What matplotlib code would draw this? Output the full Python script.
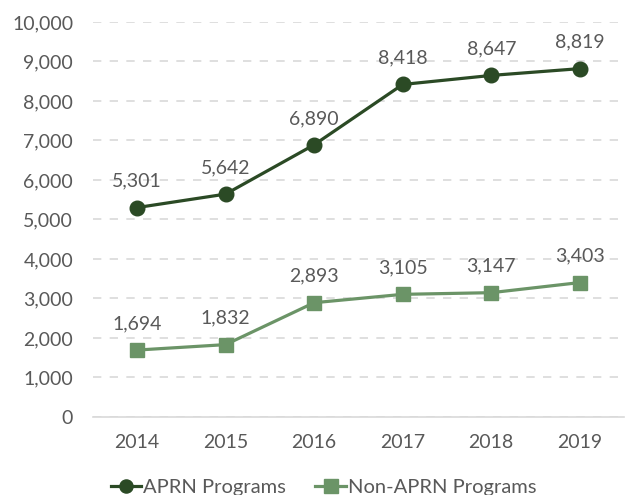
import matplotlib
matplotlib.use("Agg")
import matplotlib.pyplot as plt
from matplotlib.ticker import FuncFormatter

years = ["2014", "2015", "2016", "2017", "2018", "2019"]
aprn = [5301, 5642, 6890, 8418, 8647, 8819]
non_aprn = [1694, 1832, 2893, 3105, 3147, 3403]
series_names = ["APRN Programs", "Non-APRN Programs"]

plt.rcParams['font.family'] = ['Lato', 'DejaVu Sans']

dark = "#2b4a25"
light = "#6b9467"
text_c = "#595959"

fig = plt.figure(figsize=(6.26, 4.95), dpi=100)
ax = fig.add_axes([0.148, 0.1576, 0.849, 0.798])

x = list(range(len(years)))
l1, = ax.plot(x, aprn, color=dark, lw=2.3, marker='o', ms=10.5, label=series_names[0], zorder=3)
l2, = ax.plot(x, non_aprn, color=light, lw=2.3, marker='s', ms=10.5, label=series_names[1], zorder=3)

for xs, ys in ((x, aprn), (x, non_aprn)):
    for xi, yi in zip(xs, ys):
        ax.annotate(f"{yi:,}", (xi, yi), xytext=(0, 19), textcoords='offset points',
                    ha='center', va='center', fontsize=14, color=text_c)

ax.set_xlim(-0.5, len(years) - 0.5)
ax.set_ylim(0, 10000)
ax.set_yticks(range(0, 10001, 1000))
ax.yaxis.set_major_formatter(FuncFormatter(lambda v, p: f"{int(v):,}"))
ax.set_xticks(x)
ax.set_xticklabels(years)
ax.tick_params(axis='both', length=0, labelsize=14, labelcolor=text_c)
ax.tick_params(axis='y', pad=14)
ax.tick_params(axis='x', pad=12)

ax.grid(axis='y', color='#d9d9d9', linestyle=(0, (5, 5)), lw=1.2)
ax.set_axisbelow(True)
for s in ('top', 'right', 'left'):
    ax.spines[s].set_visible(False)
ax.spines['bottom'].set_color('#d9d9d9')
ax.spines['bottom'].set_linewidth(1.2)

fig.legend(handles=[l1, l2], loc='center', bbox_to_anchor=(0.517, 0.015), ncol=2,
           frameon=False, fontsize=14.5, labelcolor=text_c, handlelength=1.5,
           handletextpad=0.1, columnspacing=1.45, markerscale=0.9)

fig.savefig("out.png", dpi=100)
